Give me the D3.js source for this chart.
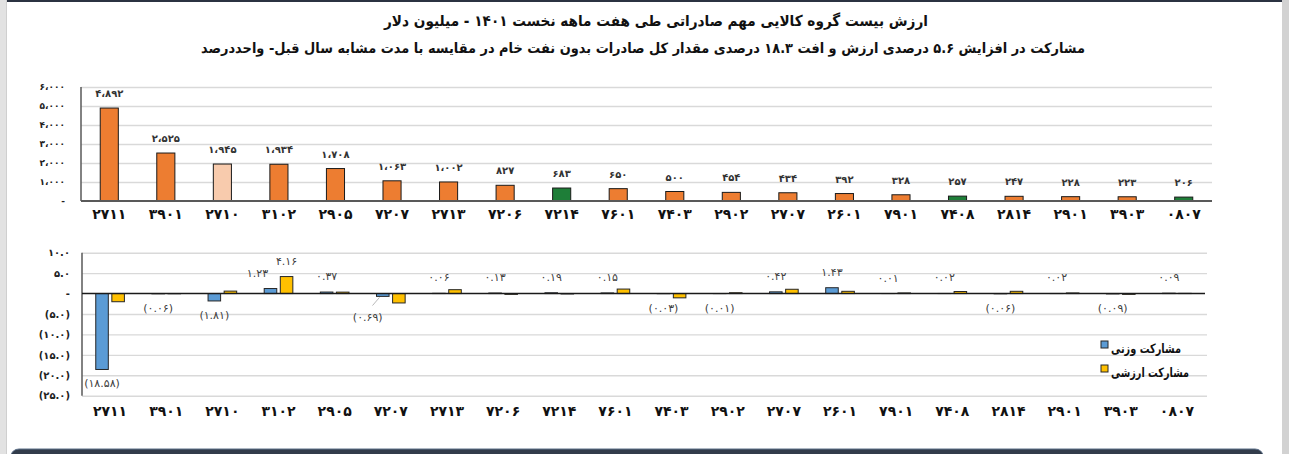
<!DOCTYPE html>
<html lang="fa">
<head>
<meta charset="UTF-8">
<title>chart</title>
<script src="https://cdn.jsdelivr.net/npm/d3@7"></script>
<style>
    body{margin:0;background:#fff;}
    svg text{font-family:"DejaVu Sans",sans-serif;}
</style>
</head>
<body>
<svg width="1289" height="454"></svg>
<script>
    // data
    var codes = ['2711','3901','2710','3102','2905','7207','2713','7206','7214','7601',
                 '7403','2902','2707','2601','7901','7408','2814','2901','3903','0807'];
    var exportValue = [4892,2525,1945,1934,1708,1063,1002,827,683,650,
                       500,454,434,392,328,257,247,228,223,206];
    var lightBars = ['2710'];
    var greenBars = ['7214','7408','0807'];

    var weightShare = [-18.58,-0.06,-1.81,1.23,0.37,-0.69,0.06,0.13,0.19,0.15,
                       -0.03,-0.01,0.42,1.43,0.01,0.02,-0.06,0.02,-0.09,0.09];
    var valueShare  = [-2.0,-0.05,0.6,4.16,0.35,-2.3,0.95,-0.2,-0.1,1.1,
                       -1.05,0.2,1.05,0.55,0.15,0.5,0.55,0.15,-0.2,0.05];
    var valueLabelShown = ['3102'];

    var topTicks = [0,1000,2000,3000,4000,5000,6000];
    var bottomTicks = [10,5,0,-5,-10,-15,-20,-25];

    var titleLines = ['ارزش بیست گروه کالایی مهم صادراتی طی هفت ماهه نخست ۱۴۰۱ - میلیون دلار',
                      'مشارکت در افزایش ۵.۶ درصدی ارزش و افت ۱۸.۳ درصدی مقدار کل صادرات بدون نفت خام در مقایسه با مدت مشابه سال قبل- واحددرصد'];
    var legendNames = ['مشارکت وزنی','مشارکت ارزشی'];

    // helpers
    function fa(s){
        return String(s).replace(/[0-9]/g,function(c){ return '۰۱۲۳۴۵۶۷۸۹'[+c]; });
    }
    function fmtThousand(v){
        if(v===0) return '-';
        return fa(d3.format(',')(v).replace(',','،'));
    }
    function fmtPct(v,n){
        if(v===0) return '-';
        var s = fa(Math.abs(v).toFixed(n));
        return v<0 ? '('+s+')' : s;
    }

    var svg = d3.select('svg');

    // page frame
    svg.append('rect').attr('x',0).attr('y',0).attr('width',1289).attr('height',454).attr('fill','#fff');
    svg.append('rect').attr('x',0).attr('y',0).attr('width',6).attr('height',454).attr('fill','#e2e2e2');
    svg.append('rect').attr('x',6).attr('y',0).attr('width',1).attr('height',454).attr('fill','#cfcfcf');
    svg.append('rect').attr('x',1282).attr('y',0).attr('width',7).attr('height',454).attr('fill','#d2d2d2');
    svg.append('rect').attr('x',7).attr('y',0).attr('width',1275).attr('height',2).attr('fill','#2b3341');
    svg.append('rect').attr('x',11).attr('y',449).attr('width',1252).attr('height',14).attr('rx',8)
        .attr('fill','#323c4b').attr('stroke','#5d7089').attr('stroke-width',1);

    // titles
    svg.selectAll('text.title')
        .data(titleLines)
        .enter().append('text')
        .attr('class','title')
        .attr('x',function(d,i){ return i==0 ? 656 : 643 })
        .attr('y',function(d,i){ return i==0 ? 26 : 53 })
        .attr('direction','rtl')
        .attr('text-anchor','middle')
        .attr('font-size',function(d,i){ return i==0 ? 15 : 14 })
        .attr('textLength',function(d,i){ return i==0 ? 544 : 884 })
        .attr('lengthAdjust','spacingAndGlyphs')
        .attr('font-weight','bold')
        .attr('fill','#111')
        .text(function(d){ return d });

    // ---------- top chart ----------
    var left = 81, rightTop = 1212;
    var x = d3.scaleBand().domain(codes).range([left,rightTop]).paddingInner(0.68).paddingOuter(0.34);
    var yTop = d3.scaleLinear().domain([0,6000]).range([201,87]);

    var topChart = svg.append('g');

    topChart.append('g')
        .attr('transform','translate('+left+',0)')
        .call(d3.axisLeft(yTop).tickValues(topTicks.slice(1)).tickSize(-(rightTop-left)).tickFormat(''))
        .call(function(g){
            g.select('.domain').remove();
            g.selectAll('line').attr('stroke','#d9d9d9').attr('stroke-width',1.4);
        });

    topChart.append('g')
        .attr('transform','translate(65,0)')
        .call(d3.axisLeft(yTop).tickValues(topTicks).tickSize(0).tickPadding(0).tickFormat(fmtThousand))
        .call(function(g){
            g.select('.domain').remove();
            g.selectAll('text').attr('font-size',9).attr('font-weight','bold').attr('fill','#222')
                .attr('font-family','DejaVu Sans');
        });

    topChart.selectAll('rect.bar')
        .data(exportValue)
        .enter().append('rect')
        .attr('class','bar')
        .attr('x',function(d,i){ return x(codes[i]) })
        .attr('y',function(d){ return yTop(d) })
        .attr('width',x.bandwidth())
        .attr('height',function(d){ return yTop(0)-yTop(d) })
        .attr('fill',function(d,i){
            if(lightBars.indexOf(codes[i])>=0) return '#f8cbad';
            if(greenBars.indexOf(codes[i])>=0) return '#1e7e38';
            return '#ed7d31';
        })
        .attr('stroke','#1a1a1a')
        .attr('stroke-width',1);

    topChart.selectAll('text.val')
        .data(exportValue)
        .enter().append('text')
        .attr('class','val')
        .attr('x',function(d,i){ return x(codes[i])+x.bandwidth()/2 })
        .attr('y',function(d){ return yTop(d)-11 })
        .attr('text-anchor','middle')
        .attr('font-size',10)
        .attr('font-weight','bold')
        .attr('fill','#333')
        .text(function(d){ return fmtThousand(d) });

    topChart.append('line').attr('x1',left).attr('x2',left).attr('y1',87).attr('y2',201)
        .attr('stroke','#595959').attr('stroke-width',1.5);
    topChart.append('line').attr('x1',left).attr('x2',rightTop).attr('y1',yTop(0)).attr('y2',yTop(0))
        .attr('stroke','#595959').attr('stroke-width',2);

    topChart.append('g')
        .attr('transform','translate(0,209)')
        .call(d3.axisBottom(x).tickSize(0).tickPadding(0).tickFormat(fa))
        .call(function(g){
            g.select('.domain').remove();
            g.selectAll('text').attr('font-size',14).attr('font-weight','bold').attr('fill','#111')
                .attr('font-family','DejaVu Sans');
        });

    // ---------- bottom chart ----------
    var left2 = 82, right2 = 1205;
    var x0 = d3.scaleBand().domain(codes).range([left2,right2]).paddingInner(0.49).paddingOuter(0.245);
    var x1 = d3.scaleBand().domain([0,1]).range([0,x0.bandwidth()]).paddingInner(0.22);
    var y2 = d3.scaleLinear().domain([-25,10]).range([395.7,252.7]);
    var colors = ['#5b9bd5','#ffc000'];

    var bot = svg.append('g');

    bot.append('g')
        .attr('transform','translate('+left2+',0)')
        .call(d3.axisLeft(y2).tickValues(bottomTicks.filter(function(t){ return t!==0 }))
            .tickSize(-(right2-left2+2)).tickFormat(''))
        .call(function(g){
            g.select('.domain').remove();
            g.selectAll('line').attr('stroke','#d9d9d9').attr('stroke-width',1.4);
        });

    bot.append('g')
        .attr('transform','translate(70,0)')
        .call(d3.axisLeft(y2).tickValues(bottomTicks).tickSize(0).tickPadding(0)
            .tickFormat(function(d){ return fmtPct(d,1) }))
        .call(function(g){
            g.select('.domain').remove();
            g.selectAll('text').attr('font-size',10).attr('font-weight','bold').attr('fill','#222')
                .attr('font-family','DejaVu Sans');
        });

    var groups = bot.selectAll('g.grp')
        .data(codes)
        .enter().append('g')
        .attr('class','grp')
        .attr('transform',function(d){ return 'translate('+x0(d)+',0)' });

    groups.selectAll('rect')
        .data(function(d,i){ return [{s:0,v:weightShare[i]},{s:1,v:valueShare[i]}] })
        .enter().append('rect')
        .attr('x',function(d){ return x1(d.s) })
        .attr('y',function(d){ return y2(Math.max(0,d.v)) })
        .attr('width',x1.bandwidth())
        .attr('height',function(d){ return Math.abs(y2(d.v)-y2(0)) })
        .attr('fill',function(d){ return colors[d.s] })
        .attr('stroke','#262626')
        .attr('stroke-width',1);

    // labels of weight share, plus shown value share labels
    var labels = [];
    codes.forEach(function(c,i){
        labels.push({code:c,s:0,v:weightShare[i]});
        if(valueLabelShown.indexOf(c)>=0) labels.push({code:c,s:1,v:valueShare[i]});
    });

    bot.selectAll('text.lbl')
        .data(labels)
        .enter().append('text')
        .attr('class','lbl')
        .attr('x',function(d){
            var cx = x0(d.code)+x1(d.s)+x1.bandwidth()/2;
            if(d.code=='3102' && d.s==0) cx -= 13;
            if(d.code=='7207') cx -= 15;
            return cx;
        })
        .attr('y',function(d){
            var v = d.v;
            if(d.code=='7207') return y2(0)+27;
            return v>=0 ? y2(v)-12 : y2(v)+18;
        })
        .attr('text-anchor','middle')
        .attr('font-size',11)
        .attr('fill','#404040')
        .text(function(d){ return fmtPct(d.v,2) });

    // leader line for 7207
    var ci = codes.indexOf('7207');
    bot.append('line')
        .attr('x1',x0('7207')+x1(0)-4).attr('y1',y2(0)+12)
        .attr('x2',x0('7207')+x1(0)+3).attr('y2',y2(weightShare[ci])+1)
        .attr('stroke','#a6a6a6').attr('stroke-width',0.8);

    bot.append('line').attr('x1',left2).attr('x2',left2).attr('y1',y2(10)).attr('y2',y2(-25))
        .attr('stroke','#595959').attr('stroke-width',1.5);
    bot.append('line').attr('x1',left2).attr('x2',right2).attr('y1',y2(0)).attr('y2',y2(0))
        .attr('stroke','#1a1a1a').attr('stroke-width',1.5);

    bot.append('g')
        .attr('transform','translate(0,406)')
        .call(d3.axisBottom(x0).tickSize(0).tickPadding(0).tickFormat(fa))
        .call(function(g){
            g.select('.domain').remove();
            g.selectAll('text').attr('font-size',14).attr('font-weight','bold').attr('fill','#111')
                .attr('font-family','DejaVu Sans');
        });

    // legend
    var legend = bot.selectAll('g.leg')
        .data(legendNames)
        .enter().append('g')
        .attr('class','leg')
        .attr('transform',function(d,i){ return 'translate(1101,'+(341+i*24)+')' });
    legend.append('rect')
        .attr('width',7).attr('height',7)
        .attr('fill',function(d,i){ return colors[i] })
        .attr('stroke','#262626').attr('stroke-width',1);
    legend.append('text')
        .attr('x',10).attr('y',12)
        .attr('font-size',13).attr('font-weight','bold').attr('fill','#111')
        .attr('textLength',function(d,i){ return i==0 ? 70 : 78 })
        .attr('lengthAdjust','spacingAndGlyphs')
        .text(function(d){ return d });
</script>
</body>
</html>
